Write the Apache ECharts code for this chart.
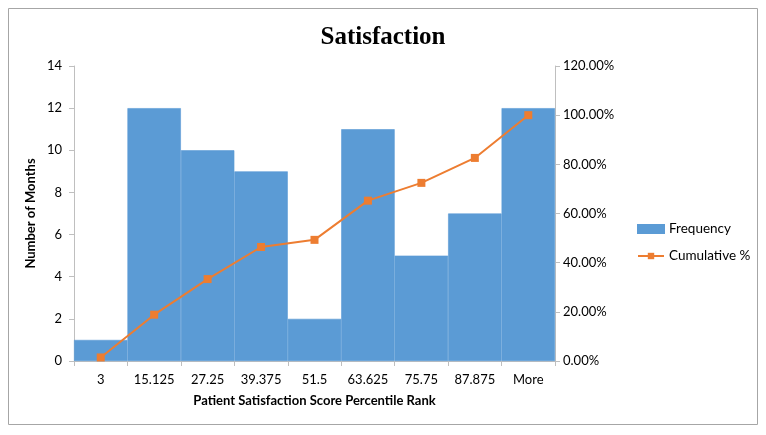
<!DOCTYPE html>
<html><head><meta charset="utf-8">
<script src="https://cdn.jsdelivr.net/npm/echarts@6/dist/echarts.min.js"></script>
<style>html,body{margin:0;padding:0;background:#fff}#c{width:766px;height:435px}</style>
</head><body><div id="c"></div>
<script>
const categories = ['3','15.125','27.25','39.375','51.5','63.625','75.75','87.875','More'];
const frequency = [1,12,10,9,2,11,5,7,12];
const cumulativePct = [1.45,18.84,33.33,46.38,49.28,65.22,72.46,82.61,100];
const leftTicks = [0,14,2];
const rightTicks = [0,120,20];

const FONT = 'Lato';
const chart = echarts.init(document.getElementById('c'));
chart.setOption({
  animation:false,
  textStyle:{fontFamily:FONT},
  graphic:[{type:'rect',shape:{x:8.5,y:8.5,width:749,height:416},style:{fill:'none',stroke:'#a6a6a6',lineWidth:1}}],
  title:{text:'Satisfaction',left:'center',top:20,textStyle:{fontFamily:'Liberation Serif',fontWeight:'bold',fontSize:25,color:'#000'}},
  legend:{orient:'vertical',left:632,top:217,itemWidth:26,itemHeight:8,itemGap:13,
    textStyle:{fontFamily:FONT,fontSize:13.5,color:'#000'},
    data:[{name:'Frequency',icon:'rect'},{name:'Cumulative %'}]},
  grid:{left:74,right:211,top:66,bottom:74,containLabel:false},
  xAxis:{type:'category',data:categories,boundaryGap:true,
    name:'Patient Satisfaction Score Percentile Rank',nameLocation:'middle',nameGap:33,
    nameTextStyle:{fontFamily:FONT,fontWeight:'bold',fontSize:13,color:'#000'},
    axisLine:{lineStyle:{color:'#bfbfbf'}},axisTick:{show:true,length:5,lineStyle:{color:'#bfbfbf'}},
    axisLabel:{color:'#000',fontSize:13,margin:12}},
  yAxis:[
    {type:'value',min:leftTicks[0],max:leftTicks[1],interval:leftTicks[2],
     name:'Number of Months',nameLocation:'middle',nameGap:37,nameRotate:90,nameMoveOverlap:false,
     nameTextStyle:{fontFamily:FONT,fontWeight:'bold',fontSize:13,color:'#000'},
     axisLine:{show:true,lineStyle:{color:'#bfbfbf'}},axisTick:{show:true,length:5,lineStyle:{color:'#bfbfbf'}},
     splitLine:{show:false},axisLabel:{color:'#000',fontSize:13,margin:12}},
    {type:'value',min:rightTicks[0],max:rightTicks[1],interval:rightTicks[2],position:'right',
     axisLine:{show:true,lineStyle:{color:'#bfbfbf'}},axisTick:{show:true,length:5,lineStyle:{color:'#bfbfbf'}},
     splitLine:{show:false},axisLabel:{color:'#000',fontSize:13,margin:8,formatter:v=>v.toFixed(2)+'%'}}
  ],
  series:[
    {name:'Frequency',type:'bar',data:frequency,barCategoryGap:'0%',
     itemStyle:{color:'#5b9bd5',borderColor:'#5b9bd5',borderWidth:0.6},yAxisIndex:0},
    {name:'Cumulative %',type:'line',data:cumulativePct,yAxisIndex:1,symbol:'rect',symbolSize:8,
     lineStyle:{color:'#ed7d31',width:2},itemStyle:{color:'#ed7d31'}}
  ]
});
</script></body></html>
